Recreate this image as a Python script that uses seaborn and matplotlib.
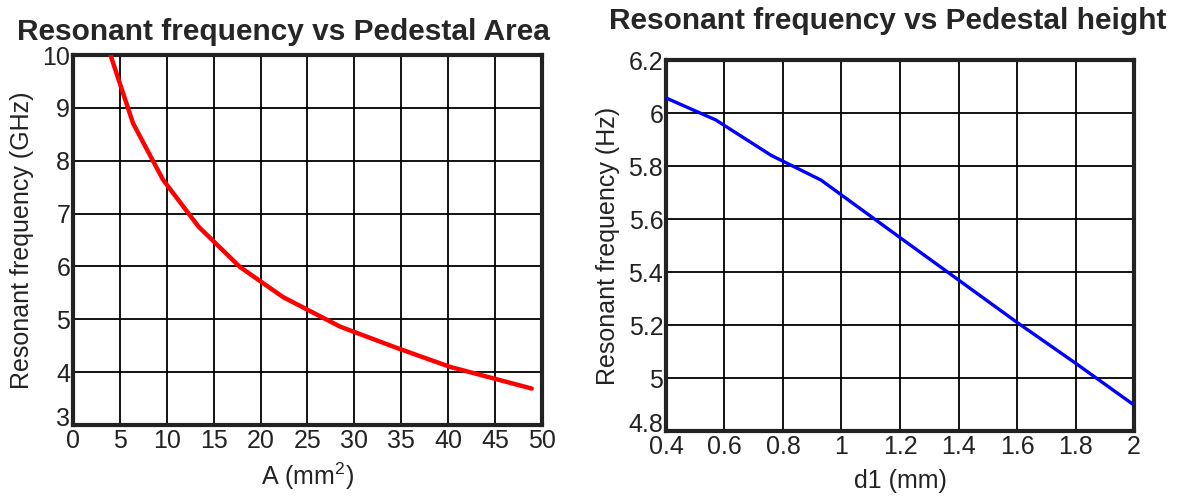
import matplotlib
matplotlib.use("Agg")
import matplotlib.pyplot as plt
import matplotlib.transforms as mtransforms
import seaborn as sns
import pandas as pd

# Resonant frequency against pedestal area
area_mm2 = [4.0, 6.4, 9.6, 13.4, 17.8, 22.4, 28.5, 34.5, 40.2, 48.9]
freq_area_ghz = [10.0, 8.71, 7.64, 6.75, 5.99, 5.42, 4.86, 4.46, 4.10, 3.69]

# Resonant frequency against pedestal height
height_mm = [0.4, 0.57, 0.76, 0.93, 1.2, 1.4, 1.6, 1.8, 2.0]
freq_height = [6.057, 5.974, 5.84, 5.747, 5.53, 5.37, 5.21, 5.056, 4.898]

area_ticks = [0, 5, 10, 15, 20, 25, 30, 35, 40, 45, 50]
area_yticks = [3, 4, 5, 6, 7, 8, 9, 10]
height_ticks = [0.4, 0.6, 0.8, 1.0, 1.2, 1.4, 1.6, 1.8, 2.0]
height_tick_labels = ["0.4", "0.6", "0.8", "1", "1.2", "1.4", "1.6", "1.8", "2"]
height_yticks = [4.8, 5.0, 5.2, 5.4, 5.6, 5.8, 6.0, 6.2]
height_ytick_labels = ["4.8", "5", "5.2", "5.4", "5.6", "5.8", "6", "6.2"]

sns.set_style("white")
plt.rcParams["font.family"] = ["Liberation Sans", "DejaVu Sans"]
plt.rcParams["mathtext.fontset"] = "custom"
plt.rcParams["mathtext.rm"] = "Liberation Sans"

fig = plt.figure(figsize=(11.77, 4.96), dpi=100)
ax1 = fig.add_axes([0.062, 0.1431, 0.3985, 0.746])
ax2 = fig.add_axes([0.5658, 0.131, 0.3977, 0.748])

df_area = pd.DataFrame({"A": area_mm2, "f": freq_area_ghz})
df_height = pd.DataFrame({"d1": height_mm, "f": freq_height})

sns.lineplot(data=df_area, x="A", y="f", ax=ax1, color="#ff0000", linewidth=3.2, zorder=3)
sns.lineplot(data=df_height, x="d1", y="f", ax=ax2, color="#0000ff", linewidth=2.4, zorder=3)

TEXT = "#222222"

def style_axes(ax):
    ax.grid(True, color="black", linewidth=1.3)
    ax.set_axisbelow(True)
    for side in ["left", "right", "top", "bottom"]:
        ax.spines[side].set_visible(True)
        ax.spines[side].set_color(TEXT)
        ax.spines[side].set_linewidth(3)
    ax.tick_params(axis="both", length=0, labelsize=18, colors=TEXT)
    ax.tick_params(axis="x", pad=3)
    ax.tick_params(axis="y", pad=2)

ax1.set_xlim(0, 50)
ax1.set_ylim(3, 10)
ax1.set_xticks(area_ticks)
ax1.set_yticks(area_yticks)
ax1.set_xlabel("A (mm$^{2}$)", fontsize=18, color=TEXT, labelpad=5)
ax1.set_ylabel("Resonant frequency (GHz)", fontsize=18, color=TEXT, labelpad=6)
style_axes(ax1)

ax2.set_xlim(0.4, 2.0)
ax2.set_ylim(4.8, 6.2)
ax2.set_xticks(height_ticks)
ax2.set_xticklabels(height_tick_labels)
ax2.set_yticks(height_yticks)
ax2.set_yticklabels(height_ytick_labels)
ax2.set_xlabel("d1 (mm)", fontsize=18, color=TEXT, labelpad=7)
ax2.set_ylabel("Resonant frequency (Hz)", fontsize=18, color=TEXT, labelpad=6)
style_axes(ax2)

# Lift the lowest y tick label a little so it clears the x tick labels
fig.canvas.draw()
for ax in (ax1, ax2):
    lowest = ax.get_yticklabels()[0]
    shift = mtransforms.ScaledTranslation(0, 6 / 72, fig.dpi_scale_trans)
    lowest.set_transform(lowest.get_transform() + shift)

ax1.set_title("Resonant frequency vs Pedestal Area", fontsize=21.5, fontweight="bold",
              x=0.448, pad=11)
ax2.set_title("Resonant frequency vs Pedestal height", fontsize=21.5, fontweight="bold",
              x=0.474, pad=22)

fig.savefig("out.png", dpi=100)
